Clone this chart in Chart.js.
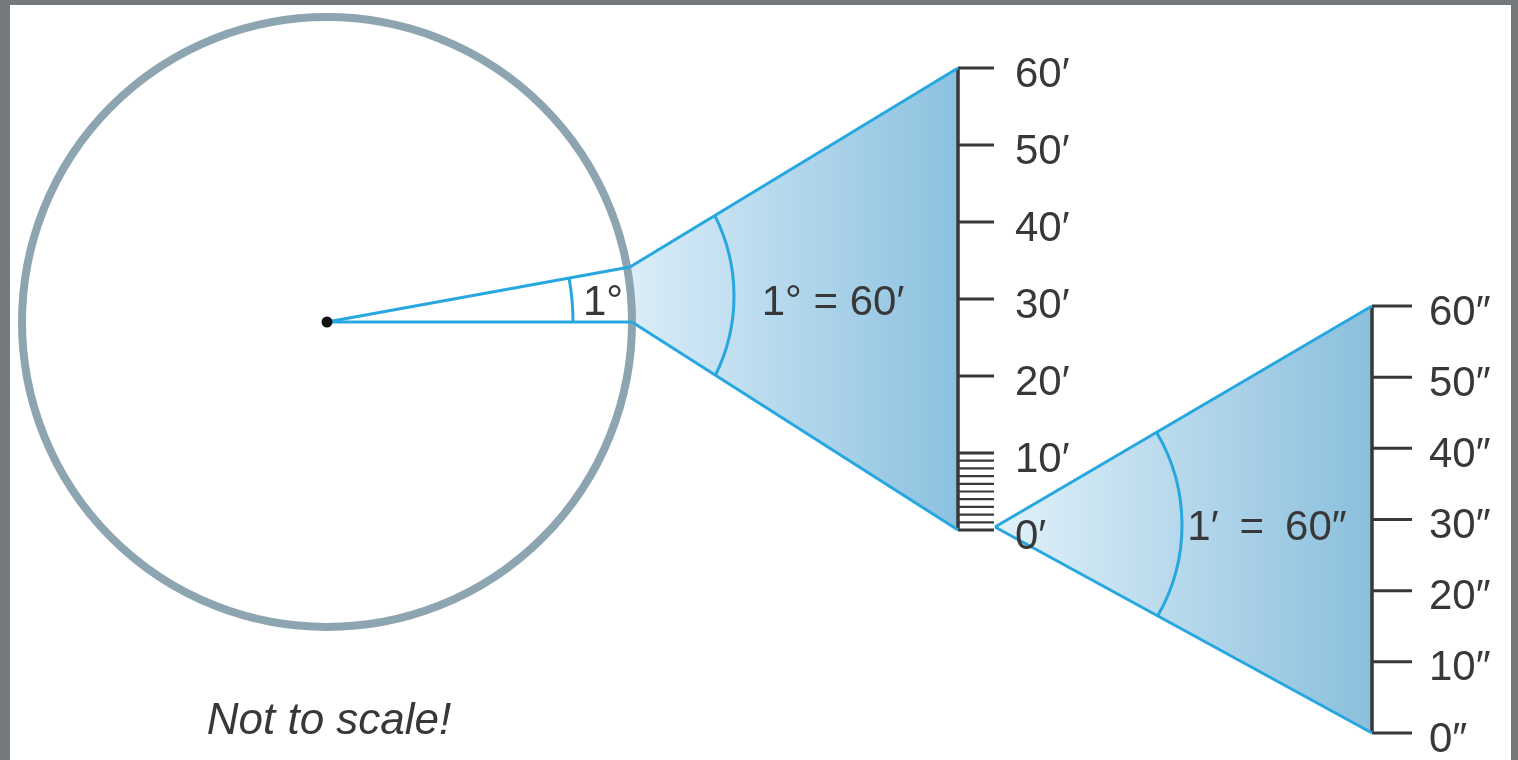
<!DOCTYPE html>
<html lang="en">
<head>
<meta charset="UTF-8">
<title>Not to scale</title>
<script src="https://cdn.jsdelivr.net/npm/chart.js"></script>
<style>
  body { margin: 0; background: #75797b; overflow: hidden; }
  canvas { display: block; }
</style>
</head>
<body>
<canvas id="diagram" width="1518" height="760"></canvas>
<script>
// values shown on the two rulers
var minuteTicks = [0, 10, 20, 30, 40, 50, 60];
var minuteLabels = ['0′', '10′', '20′', '30′', '40′', '50′', '60′'];
var minuteFine = [0, 1, 2, 3, 4, 5, 6, 7, 8, 9, 10];
var secondTicks = [0, 10, 20, 30, 40, 50, 60];
var secondLabels = ['0″', '10″', '20″', '30″', '40″', '50″', '60″'];
var angleLabel = '1°';
var equalities = ['1° = 60′', '1′ = 60″'];
var note = 'Not to scale!';

// layout, in page pixels
var W = 1518, H = 760;
var centre = { x: 327, y: 322 }, radius = 305;
var rimTop = { x: 630, y: 267 }, rimBottom = { x: 632, y: 322 };
var ruler1 = { x: 958, top: 68, bottom: 530, tick: 36, labelX: 1015 };
var ruler2 = { x: 1372, top: 306, bottom: 733, tick: 40, labelX: 1429 };
var apex2 = { x: 995, y: 527 };

var blue = '#27a7df';
var ink = '#383838';
var font = '"Liberation Sans", Arial, sans-serif';

// y range for a ruler scale so that 0..60 lands on bottom..top
function rulerRange(r) {
    var per = (r.bottom - r.top) / 60;
    return { min: -(H - r.bottom) / per, max: 60 + r.top / per };
}
var r1 = rulerRange(ruler1);
var r2 = rulerRange(ruler2);

function seg(a, b, color, width, axis) {
    return {
        data: [a, b],
        yAxisID: axis || 'y',
        borderColor: color,
        borderWidth: width,
        pointRadius: 0,
        fill: false,
        order: 1
    };
}

function gradient(x0, x1, c0, c1) {
    return function (ctx) {
        var chart = ctx.chart;
        if (!chart.chartArea) return c1;
        var xs = chart.scales.x;
        var g = chart.ctx.createLinearGradient(xs.getPixelForValue(x0), 0, xs.getPixelForValue(x1), 0);
        g.addColorStop(0, c0);
        g.addColorStop(1, c1);
        return g;
    };
}

var datasets = [];

// big wedge (degree -> arcminutes)
datasets.push({
    data: [rimTop, { x: ruler1.x, y: ruler1.top }, { x: ruler1.x, y: ruler1.bottom }, rimBottom, rimTop],
    fill: 'shape',
    borderColor: 'rgba(0,0,0,0)',
    borderWidth: 0,
    pointRadius: 0,
    backgroundColor: gradient(rimTop.x, ruler1.x, '#dbedf8', '#8bc1df'),
    order: 5
});
// small wedge (arcminute -> arcseconds)
datasets.push({
    data: [apex2, { x: ruler2.x, y: ruler2.top }, { x: ruler2.x, y: ruler2.bottom }, apex2],
    fill: 'shape',
    borderColor: 'rgba(0,0,0,0)',
    borderWidth: 0,
    pointRadius: 0,
    backgroundColor: gradient(apex2.x, ruler2.x, '#e2f1fa', '#8abfdd'),
    order: 5
});

// the circle and its centre
datasets.push({
    data: [centre],
    showLine: false,
    pointRadius: radius,
    pointBorderWidth: 8,
    pointBorderColor: '#8da5b1',
    pointBackgroundColor: 'rgba(0,0,0,0)',
    order: 4
});
datasets.push({
    data: [centre],
    showLine: false,
    pointRadius: 5.5,
    pointBorderWidth: 0,
    pointBackgroundColor: '#111',
    order: 0
});

// blue edges
datasets.push(seg(centre, rimTop, blue, 3));
datasets.push(seg(centre, rimBottom, blue, 3));
datasets.push(seg(rimTop, { x: ruler1.x, y: ruler1.top }, blue, 3));
datasets.push(seg(rimBottom, { x: ruler1.x, y: ruler1.bottom }, blue, 3));
datasets.push(seg(apex2, { x: ruler2.x, y: ruler2.top }, blue, 3));
datasets.push(seg(apex2, { x: ruler2.x, y: ruler2.bottom }, blue, 3));

// rulers
datasets.push(seg({ x: ruler1.x, y: 0 }, { x: ruler1.x, y: 60 }, ink, 3.5, 'yMin'));
minuteTicks.forEach(function (v) {
    datasets.push(seg({ x: ruler1.x, y: v }, { x: ruler1.x + ruler1.tick, y: v }, ink, 3, 'yMin'));
});
minuteFine.forEach(function (v) {
    datasets.push(seg({ x: ruler1.x, y: v }, { x: ruler1.x + ruler1.tick, y: v }, ink, 2.2, 'yMin'));
});
datasets.push(seg({ x: ruler2.x, y: 0 }, { x: ruler2.x, y: 60 }, ink, 3.5, 'ySec'));
secondTicks.forEach(function (v) {
    datasets.push(seg({ x: ruler2.x, y: v }, { x: ruler2.x + ruler2.tick, y: v }, ink, 3, 'ySec'));
});

// frame, arcs and text
var decor = {
    id: 'decor',
    beforeDraw: function (chart) {
        var c = chart.ctx, xs = chart.scales.x, ys = chart.scales.y;
        c.save();
        c.fillStyle = '#75797b';
        c.fillRect(0, 0, W, H);
        c.fillStyle = '#fff';
        c.fillRect(xs.getPixelForValue(10), ys.getPixelForValue(5), xs.getPixelForValue(1511) - xs.getPixelForValue(10), H);
        c.restore();
    },
    afterDatasetsDraw: function (chart) {
        var c = chart.ctx, xs = chart.scales.x, ys = chart.scales.y;
        var ym = chart.scales.yMin, ysec = chart.scales.ySec;
        function arc(cx, cy, r, a0, a1) {
            c.beginPath();
            c.arc(xs.getPixelForValue(cx), ys.getPixelForValue(cy), r, a0 * Math.PI / 180, a1 * Math.PI / 180);
            c.stroke();
        }
        c.save();
        c.strokeStyle = blue;
        c.lineWidth = 3;
        arc(centre.x, centre.y, 246, -10.2, 0);
        arc(556, 296, 178, -27, 26.5);
        arc(1000, 525, 182, -30.4, 30.2);

        c.fillStyle = ink;
        c.textBaseline = 'middle';
        c.textAlign = 'left';
        c.font = '42px ' + font;
        minuteTicks.forEach(function (v, i) {
            c.fillText(minuteLabels[i], xs.getPixelForValue(ruler1.labelX), ym.getPixelForValue(v) + 7);
        });
        secondTicks.forEach(function (v, i) {
            c.fillText(secondLabels[i], xs.getPixelForValue(ruler2.labelX), ysec.getPixelForValue(v) + 7);
        });
        c.textAlign = 'center';
        c.fillText(angleLabel, xs.getPixelForValue(603), ys.getPixelForValue(303));
        c.fillText(equalities[0], xs.getPixelForValue(833), ys.getPixelForValue(303));
        c.fillText(equalities[1].replace(/ /g, '\u2002'), xs.getPixelForValue(1267), ys.getPixelForValue(528));
        c.font = 'italic 44px ' + font;
        c.fillText(note, xs.getPixelForValue(329), ys.getPixelForValue(722));
        c.restore();
    }
};

new Chart(document.getElementById('diagram'), {
    type: 'line',
    data: { datasets: datasets },
    options: {
        responsive: false,
        animation: false,
        devicePixelRatio: 1,
        layout: { padding: 0, autoPadding: false },
        elements: { line: { tension: 0 } },
        plugins: { legend: { display: false }, tooltip: { enabled: false } },
        scales: {
            x: { type: 'linear', min: 0, max: W, display: false },
            y: { type: 'linear', min: 0, max: H, reverse: true, display: false },
            yMin: { type: 'linear', min: r1.min, max: r1.max, display: false },
            ySec: { type: 'linear', min: r2.min, max: r2.max, display: false }
        }
    },
    plugins: [decor]
});
</script>
</body>
</html>
